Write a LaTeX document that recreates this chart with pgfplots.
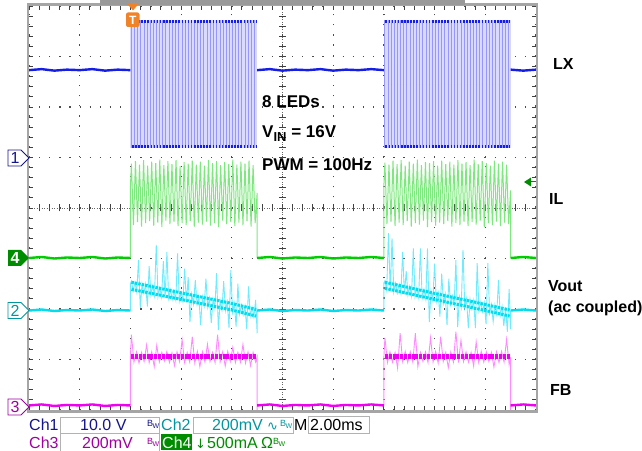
\documentclass[border=0pt]{standalone}
\usepackage{pgfplots}
\pgfplotsset{compat=1.18}
\usepackage{pgfplotstable}
\usepackage{fontspec}
\setmainfont{Liberation Sans}
\newfontfamily\symf{DejaVu Sans}
\definecolor{lxdark}{RGB}{20,30,230}
\definecolor{lxfill}{RGB}{218,218,255}
\definecolor{lxline}{RGB}{150,150,255}
\definecolor{ildark}{RGB}{0,205,0}
\definecolor{illine}{RGB}{125,232,125}
\definecolor{vodark}{RGB}{0,222,238}
\definecolor{voline}{RGB}{110,235,255}
\definecolor{fbdark}{RGB}{240,0,240}
\definecolor{fbline}{RGB}{255,140,255}
\definecolor{chone}{RGB}{20,20,140}
\definecolor{chtwo}{RGB}{0,150,160}
\definecolor{chthree}{RGB}{160,0,160}
\definecolor{chfour}{RGB}{0,140,0}
\definecolor{framec}{RGB}{165,165,165}
\definecolor{trig}{RGB}{240,130,40}
\newcommand{\sbf}{\fontsize{16}{18}\selectfont}
\newcommand{\bw}{{\fontsize{9}{9}\selectfont B\kern-0.6pt\raisebox{-2.5pt}{\fontsize{7}{7}\selectfont W}}}

% LX switching edges (x positions, mid level)
\pgfplotstableread{
x m
2.02 6.455
2.08 6.455
2.14 6.455
2.20 6.455
2.27 6.455
2.33 6.455
2.39 6.455
2.45 6.455
2.52 6.455
2.58 6.455
2.64 6.455
2.70 6.455
2.77 6.455
2.83 6.455
2.89 6.455
2.95 6.455
3.02 6.455
3.08 6.455
3.14 6.455
3.20 6.455
3.27 6.455
3.33 6.455
3.39 6.455
3.45 6.455
3.52 6.455
3.58 6.455
3.64 6.455
3.70 6.455
3.77 6.455
3.83 6.455
3.89 6.455
3.95 6.455
4.02 6.455
4.08 6.455
4.14 6.455
4.20 6.455
4.27 6.455
4.33 6.455
4.39 6.455
4.45 6.455
7.02 6.455
7.08 6.455
7.14 6.455
7.20 6.455
7.27 6.455
7.33 6.455
7.39 6.455
7.45 6.455
7.52 6.455
7.58 6.455
7.64 6.455
7.70 6.455
7.77 6.455
7.83 6.455
7.89 6.455
7.95 6.455
8.02 6.455
8.08 6.455
8.14 6.455
8.20 6.455
8.27 6.455
8.33 6.455
8.39 6.455
8.45 6.455
8.52 6.455
8.58 6.455
8.64 6.455
8.70 6.455
8.77 6.455
8.83 6.455
8.89 6.455
8.95 6.455
9.02 6.455
9.08 6.455
9.14 6.455
9.20 6.455
9.27 6.455
9.33 6.455
9.39 6.455
9.45 6.455
}\lxedges

\pgfplotstableread{
x y
2.00 3.01
2.00 4.40
2.02 4.88
2.06 3.66
2.10 4.93
2.14 3.72
2.18 4.86
2.22 3.63
2.26 4.95
2.30 3.70
2.34 4.84
2.38 3.74
2.42 4.92
2.46 3.65
2.50 4.89
2.54 3.71
2.58 4.96
2.62 3.62
2.66 4.85
2.70 3.75
2.74 4.93
2.78 3.68
2.82 4.87
2.86 3.73
2.90 4.95
2.94 3.64
2.98 4.83
3.02 3.70
3.06 4.91
3.10 3.66
3.14 4.88
3.18 3.74
3.22 4.94
3.26 3.63
3.30 4.86
3.34 3.71
3.38 4.92
3.42 3.67
3.46 4.84
3.50 3.73
3.54 4.95
3.58 3.65
3.62 4.89
3.66 3.70
3.70 4.93
3.74 3.62
3.78 4.85
3.82 3.75
3.86 4.91
3.90 3.68
3.94 4.87
3.98 3.72
4.02 4.96
4.06 3.64
4.10 4.86
4.14 3.71
4.18 4.92
4.22 3.66
4.26 4.88
4.30 3.74
4.34 4.94
4.38 3.63
4.42 4.85
4.46 3.70
4.50 4.30
4.50 3.01
}\ilA

\pgfplotstableread{
x y
7.00 3.01
7.00 4.45
7.02 4.90
7.06 3.68
7.10 4.86
7.14 3.73
7.18 4.94
7.22 3.64
7.26 4.87
7.30 3.71
7.34 4.95
7.38 3.66
7.42 4.84
7.46 3.74
7.50 4.92
7.54 3.63
7.58 4.88
7.62 3.70
7.66 4.96
7.70 3.67
7.74 4.85
7.78 3.75
7.82 4.91
7.86 3.62
7.90 4.89
7.94 3.72
7.98 4.93
8.02 3.65
8.06 4.84
8.10 3.71
8.14 4.94
8.18 3.68
8.22 4.87
8.26 3.74
8.30 4.92
8.34 3.63
8.38 4.86
8.42 3.70
8.46 4.95
8.50 3.66
8.54 4.88
8.58 3.73
8.62 4.91
8.66 3.64
8.70 4.85
8.74 3.72
8.78 4.96
8.82 3.67
8.86 4.87
8.90 3.75
8.94 4.93
8.98 3.62
9.02 4.89
9.06 3.70
9.10 4.84
9.14 3.66
9.18 4.94
9.22 3.73
9.26 4.88
9.30 3.64
9.34 4.92
9.38 3.71
9.42 4.86
9.46 3.68
9.50 4.35
9.50 3.01
}\ilB

\pgfplotstableread{
x y
2.000 1.97
2.000 2.50
2.020 2.55
2.055 2.36
2.090 2.53
2.125 2.34
2.160 2.97
2.195 2.02
2.230 2.50
2.265 2.31
2.300 2.49
2.335 2.05
2.370 2.85
2.405 2.28
2.440 2.46
2.475 2.27
2.510 3.27
2.545 2.25
2.580 2.42
2.615 2.24
2.650 2.95
2.685 2.22
2.720 3.13
2.755 2.21
2.790 2.38
2.825 2.19
2.860 2.36
2.895 2.18
2.930 3.10
2.965 2.16
3.000 2.33
3.035 2.15
3.070 2.80
3.105 2.13
3.140 2.63
3.175 1.74
3.210 2.29
3.245 2.10
3.280 2.57
3.315 2.09
3.350 2.26
3.385 1.68
3.420 2.24
3.455 2.06
3.490 2.60
3.525 2.04
3.560 2.21
3.595 1.72
3.630 2.20
3.665 2.01
3.700 2.71
3.735 1.58
3.770 2.17
3.805 1.98
3.840 2.55
3.875 1.97
3.910 2.14
3.945 1.62
3.980 2.77
4.015 1.94
4.050 2.11
4.085 1.65
4.120 2.50
4.155 1.90
4.190 2.08
4.225 1.89
4.260 2.06
4.295 1.60
4.330 2.45
4.365 1.86
4.400 2.03
4.435 1.84
4.470 2.18
4.500 1.52
4.500 1.97
}\voA

\pgfplotstableread{
x y
7.000 1.97
7.000 2.52
7.020 2.56
7.055 2.37
7.090 3.50
7.125 2.35
7.160 3.40
7.195 2.34
7.230 2.51
7.265 2.32
7.300 2.49
7.335 2.31
7.370 3.13
7.405 2.29
7.440 2.75
7.475 2.28
7.510 2.45
7.545 2.26
7.580 3.20
7.615 2.25
7.650 2.42
7.685 2.23
7.720 3.20
7.755 2.21
7.790 2.39
7.825 2.20
7.860 3.20
7.895 1.74
7.930 2.36
7.965 2.17
8.000 2.90
8.035 2.15
8.070 2.32
8.105 1.85
8.140 2.70
8.175 2.12
8.210 2.29
8.245 1.68
8.280 2.60
8.315 2.09
8.350 2.26
8.385 2.08
8.420 2.97
8.455 1.64
8.490 2.23
8.525 2.04
8.560 3.17
8.595 2.03
8.630 2.20
8.665 1.62
8.700 2.19
8.735 2.00
8.770 2.17
8.805 1.62
8.840 2.91
8.875 1.97
8.910 2.14
8.945 1.95
8.980 2.12
9.015 1.70
9.050 2.91
9.085 1.92
9.120 2.09
9.155 1.75
9.190 2.08
9.225 1.89
9.260 2.57
9.295 1.87
9.330 2.05
9.365 1.66
9.400 2.03
9.435 1.55
9.470 2.40
9.500 1.60
9.500 1.97
}\voB

\pgfplotstableread{
x y
2.00 0.09
2.00 1.05
2.02 1.49
2.07 0.95
2.12 1.15
2.17 0.93
2.22 1.14
2.27 0.96
2.32 1.29
2.37 0.94
2.42 1.15
2.47 0.86
2.52 1.28
2.57 0.95
2.62 1.14
2.67 0.97
2.72 1.16
2.77 0.94
2.82 1.13
2.87 0.88
2.92 1.15
2.97 0.96
3.02 1.39
3.07 0.94
3.12 1.14
3.17 0.95
3.22 1.45
3.27 0.93
3.32 1.16
3.37 0.86
3.42 1.15
3.47 0.95
3.52 1.30
3.57 0.96
3.62 1.14
3.67 0.94
3.72 1.49
3.77 0.95
3.82 1.15
3.87 0.87
3.92 1.16
3.97 0.96
4.02 1.24
4.07 0.94
4.12 1.14
4.17 0.95
4.22 1.30
4.27 0.93
4.32 1.15
4.37 0.88
4.42 1.14
4.47 0.95
4.50 1.05
4.50 0.00
}\fbA

\pgfplotstableread{
x y
7.00 0.09
7.00 1.05
7.02 1.43
7.07 0.94
7.12 1.15
7.17 0.95
7.22 1.14
7.27 0.83
7.32 1.52
7.37 0.96
7.42 1.16
7.47 0.94
7.52 1.15
7.57 0.95
7.62 1.52
7.67 0.86
7.72 1.14
7.77 0.96
7.82 1.15
7.87 0.94
7.92 1.43
7.97 0.95
8.02 1.16
8.07 0.93
8.12 1.45
8.17 0.96
8.22 1.14
8.27 0.84
8.32 1.15
8.37 0.95
8.42 1.55
8.47 0.94
8.52 1.38
8.57 0.96
8.62 1.15
8.67 0.95
8.72 1.14
8.77 0.87
8.82 1.35
8.87 0.94
8.92 1.16
8.97 0.95
9.02 1.15
9.07 0.96
9.12 1.14
9.17 0.85
9.22 1.15
9.27 0.94
9.32 1.16
9.37 0.95
9.42 1.40
9.47 0.90
9.50 1.05
9.50 0.00
}\fbB

\begin{document}
\begin{tikzpicture}
\useasboundingbox (0,0) rectangle (642pt,450pt);
\fill[white] (0,0) rectangle (642pt,450pt);
\begin{scope}[x=1pt,y=1pt]
  \draw[black!60, line width=0.7pt, dash pattern=on 0.8pt off 1.7pt] (282.5,40) -- (282.5,444);
  \draw[black!60, line width=0.7pt, dash pattern=on 0.8pt off 1.7pt] (29,242) -- (536,242);
  \foreach \k in {1,...,49} \draw[black!75, line width=0.9pt] ({29+\k*10.14},238.5) -- ++(0,7);
  \foreach \k in {1,...,39} \draw[black!75, line width=0.9pt] (279,{40+\k*10.1}) -- ++(7,0);
\end{scope}
\begin{axis}[
  at={(29pt,40pt)}, anchor=south west,
  scale only axis, width=507pt, height=404pt,
  xmin=0, xmax=10, ymin=0, ymax=8,
  xtick={0,...,10}, ytick={0,...,8},
  minor x tick num=4, minor y tick num=4,
  xticklabels={}, yticklabels={},
  tick align=inside, tick pos=both,
  major tick length=4pt, minor tick length=4pt,
  tick style={black!75, line width=0.9pt},
  grid=major,
  major grid style={black!70, line width=1.2pt, dash pattern=on 1.2pt off 8.92pt},
  axis line style={draw=none},
]
% ---- LX (Ch1)
\addplot[draw=none, fill=lxfill] coordinates {(2.0,5.19) (4.5,5.19) (4.5,7.72) (2.0,7.72)};
\addplot[draw=none, fill=lxfill] coordinates {(7.0,5.19) (9.5,5.19) (9.5,7.72) (7.0,7.72)};
\addplot[draw=none, only marks, mark=*, mark size=0pt, mark options={draw=none, fill=none},
  error bars/.cd, y dir=both, y fixed=1.265, error mark=none,
  error bar style={draw=lxline, line width=0.9pt}] table[x=x, y=m] {\lxedges};
\addplot[lxdark, line width=2.6pt, dash pattern=on 1.6pt off 1.5pt] coordinates {(2.03,7.69) (4.48,7.69)};
\addplot[lxdark, line width=2.6pt, dash pattern=on 1.6pt off 1.5pt] coordinates {(2.03,5.22) (4.48,5.22)};
\addplot[lxdark, line width=2.6pt, dash pattern=on 1.6pt off 1.5pt] coordinates {(7.03,7.69) (9.48,7.69)};
\addplot[lxdark, line width=2.6pt, dash pattern=on 1.6pt off 1.5pt] coordinates {(7.03,5.22) (9.48,5.22)};
\addplot[lxdark, line width=2.4pt] coordinates {(0,6.73) (0.25,6.75) (0.5,6.72) (0.75,6.74) (1.0,6.73) (1.25,6.75) (1.5,6.72) (1.75,6.74) (2.0,6.73)};
\addplot[lxdark, line width=2.4pt] coordinates {(4.5,6.73) (4.75,6.75) (5.0,6.72) (5.25,6.74) (5.5,6.73) (5.75,6.75) (6.0,6.72) (6.25,6.74) (6.5,6.73) (6.75,6.75) (7.0,6.73)};
\addplot[lxdark, line width=2.4pt] coordinates {(9.5,6.74) (9.75,6.72) (10,6.74)};
% ---- IL (Ch4)
\addplot[illine, line width=1pt] table {\ilA};
\addplot[illine, line width=1pt] table {\ilB};
\addplot[ildark, line width=2.4pt] coordinates {(0,3.01) (0.25,3.03) (0.5,3.00) (0.75,3.02) (1.0,3.01) (1.25,3.03) (1.5,3.00) (1.75,3.02) (2.0,3.01)};
\addplot[ildark, line width=2.4pt] coordinates {(4.5,3.01) (4.75,3.03) (5.0,3.00) (5.25,3.02) (5.5,3.01) (5.75,3.03) (6.0,3.00) (6.25,3.02) (6.5,3.01) (6.75,3.03) (7.0,3.01)};
\addplot[ildark, line width=2.4pt] coordinates {(9.5,3.01) (9.75,3.03) (10,3.01)};
% ---- Vout (Ch2)
\addplot[voline, line width=0.9pt] table {\voA};
\addplot[voline, line width=0.9pt] table {\voB};
\addplot[vodark, line width=3pt, dash pattern=on 2.5pt off 1pt] coordinates {(2.02,2.53) (3.0,2.32) (4.0,2.11) (4.48,1.99)};
\addplot[vodark, line width=3pt, dash pattern=on 2.5pt off 1pt] coordinates {(2.02,2.39) (3.0,2.19) (4.0,1.98) (4.48,1.86)};
\addplot[vodark, line width=3pt, dash pattern=on 2.5pt off 1pt] coordinates {(7.02,2.53) (8.0,2.31) (9.0,2.09) (9.48,1.98)};
\addplot[vodark, line width=3pt, dash pattern=on 2.5pt off 1pt] coordinates {(7.02,2.41) (8.0,2.19) (9.0,1.97) (9.48,1.86)};
\addplot[vodark, line width=2.4pt] coordinates {(0,1.97) (0.25,1.99) (0.5,1.96) (0.75,1.98) (1.0,1.97) (1.25,1.99) (1.5,1.96) (1.75,1.98) (2.0,1.97)};
\addplot[vodark, line width=2.4pt] coordinates {(4.5,1.97) (4.75,1.99) (5.0,1.96) (5.25,1.98) (5.5,1.97) (5.75,1.99) (6.0,1.96) (6.25,1.98) (6.5,1.97) (6.75,1.99) (7.0,1.97)};
\addplot[vodark, line width=2.4pt] coordinates {(9.5,1.97) (9.75,1.99) (10,1.97)};
% ---- FB (Ch3)
\addplot[fbline, line width=0.9pt] table {\fbA};
\addplot[fbline, line width=0.9pt] table {\fbB};
\addplot[fbdark, line width=5pt, dash pattern=on 3pt off 0.8pt] coordinates {(2.02,1.05) (4.48,1.05)};
\addplot[fbdark, line width=5pt, dash pattern=on 3pt off 0.8pt] coordinates {(7.02,1.05) (9.48,1.05)};
\addplot[fbdark, line width=2.4pt] coordinates {(0,0.09) (0.25,0.11) (0.5,0.08) (0.75,0.10) (1.0,0.09) (1.25,0.11) (1.5,0.08) (1.75,0.10) (2.0,0.09)};
\addplot[fbdark, line width=2.4pt] coordinates {(4.5,0.09) (4.75,0.11) (5.0,0.08) (5.25,0.10) (5.5,0.09) (5.75,0.11) (6.0,0.08) (6.25,0.10) (6.5,0.09) (6.75,0.11) (7.0,0.09)};
\addplot[fbdark, line width=2.4pt] coordinates {(9.5,0.09) (9.75,0.11) (10,0.09)};
\end{axis}
\begin{scope}[x=1pt,y=1pt]
  % frame
  \draw[framec, line width=2.5pt] (28,38.5) rectangle (537,445.5);
  \fill[black!40] (100,445) rectangle (465,449.5);
  % trigger marker
  \fill[trig] (127.5,446) -- (138.5,446) -- (133,439.5) -- cycle;
  \fill[trig, rounded corners=2pt] (126,423) rectangle (139.5,437.5);
  \node[white, font=\bfseries\fontsize{12}{12}\selectfont, inner sep=0] at (132.8,430) {T};
  % trigger level arrow
  \fill[chfour] (524,268) -- (531,272.5) -- (531,263.5) -- cycle;
  \draw[chfour, line width=1pt] (531,268) -- (536,268);
  % channel markers
  \draw[chone, line width=0.8pt, fill=white] (8,284) -- (21,284) -- (29,292) -- (21,300) -- (8,300) -- cycle;
  \node[chone, font=\sbf, inner sep=0] at (15,292) {1};
  \fill[chfour] (8,184) -- (21,184) -- (29,192) -- (21,200) -- (8,200) -- cycle;
  \node[white, font=\sbf\bfseries, inner sep=0] at (15,192) {4};
  \draw[chtwo, line width=0.8pt, fill=white] (8,131.5) -- (21,131.5) -- (29,139.5) -- (21,147.5) -- (8,147.5) -- cycle;
  \node[chtwo, font=\sbf, inner sep=0] at (15,139.5) {2};
  \draw[chthree, line width=0.8pt, fill=white] (8,35) -- (21,35) -- (29,43) -- (21,51) -- (8,51) -- cycle;
  \node[chthree, font=\sbf, inner sep=0] at (15,43) {3};
  % right labels
  \begin{scope}[every node/.style={anchor=base west, inner sep=0, font=\bfseries\fontsize{16}{18}\selectfont}]
    \node at (553,380) {LX};
    \node at (549,245) {IL};
    \node at (548,158) {Vout};
    \node at (548,138) {(ac coupled)};
    \node at (550,55) {FB};
  \end{scope}
  % annotation
  \begin{scope}[every node/.style={anchor=base west, inner sep=0, font=\bfseries\fontsize{17}{19}\selectfont}]
    \node at (262,342) {8 LEDs};
    \node at (262,312) {V\raisebox{-4pt}{\fontsize{13}{13}\selectfont IN} = 16V};
    \node at (262,279) {PWM = 100Hz};
  \end{scope}
  % status bar
  \draw[black!30, line width=0.8pt] (60,17) rectangle (159,33);
  \draw[black!30, line width=0.8pt] (60,-2) rectangle (159,17);
  \draw[black!30, line width=0.8pt] (193,17) rectangle (293,33);
  \draw[black!30, line width=0.8pt] (308,17) rectangle (369,34);
  \fill[chfour] (161,0) rectangle (192,16);
  \begin{scope}[every node/.style={anchor=base west, inner sep=0, font=\sbf}]
    \node[chone] at (29,20) {Ch1};
    \node[chone] at (80,20) {10.0 V};
    \node[chone] at (147,24) {\bw};
    \node[chtwo] at (161,20) {Ch2};
    \node[chtwo] at (212,20) {200mV};
    \node[chtwo] at (267,20) {\symf\fontsize{13}{13}\selectfont ∿};
    \node[chtwo] at (280,24) {\bw};
    \node[black] at (294,20) {M};
    \node[black] at (310,20) {2.00ms};
    \node[chthree] at (29,2) {Ch3};
    \node[chthree] at (82,2) {200mV};
    \node[chthree] at (147,6) {\bw};
    \node[white] at (162,2) {Ch4};
    \node[chfour] at (195,2) {\symf\fontsize{13}{13}\selectfont ↓};
    \node[chfour] at (207,2) {500mA};
    \node[chfour] at (261,2) {Ω};
    \node[chfour] at (273,6) {\bw};
  \end{scope}
\end{scope}
\end{tikzpicture}
\end{document}
